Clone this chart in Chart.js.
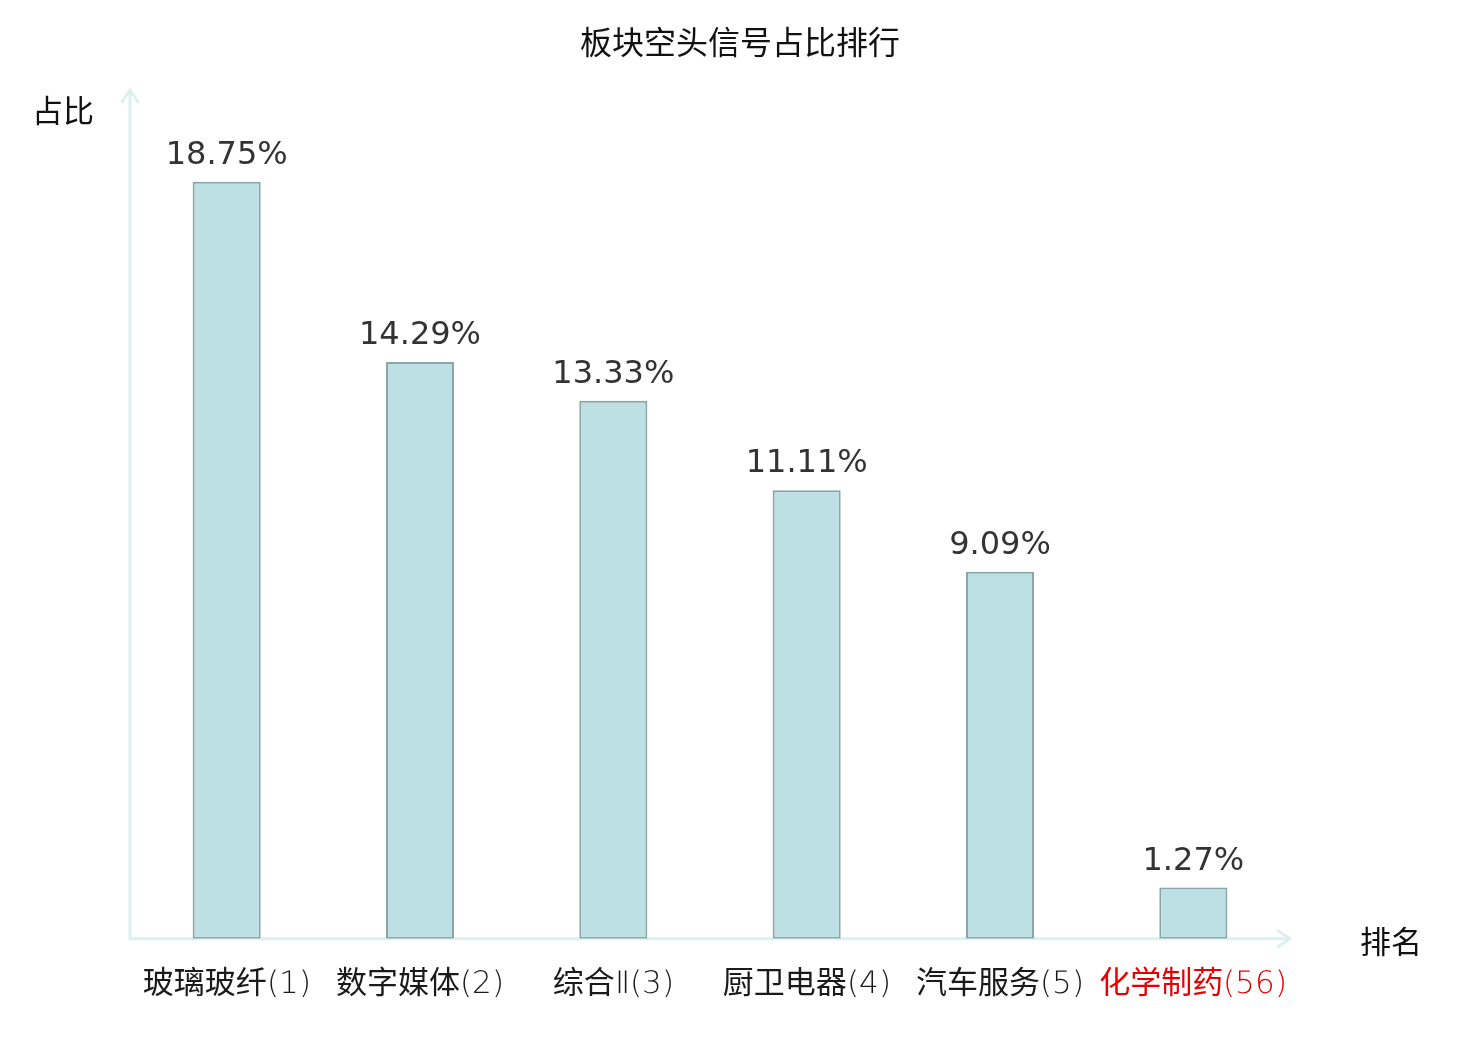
<!DOCTYPE html>
<html><head><meta charset="utf-8">
<script src="https://cdn.jsdelivr.net/npm/chart.js@4.4.1/dist/chart.umd.min.js"></script>
<style>
html,body{margin:0;padding:0;background:#fff}
@font-face{font-family:'LatLight';src:local('DejaVu Sans ExtraLight'),local('DejaVuSans-ExtraLight');unicode-range:U+0000-00FF,U+2160-216F;}
</style>
</head><body>
<canvas id="c" width="1480" height="1040"></canvas>
<script>
const categories = ["玻璃玻纤(1)", "数字媒体(2)", "综合Ⅱ(3)", "厨卫电器(4)", "汽车服务(5)", "化学制药(56)"];
const values = [18.75, 14.29, 13.33, 11.11, 9.09, 1.27];
const valueLabels = ["18.75%", "14.29%", "13.33%", "11.11%", "9.09%", "1.27%"];
const labelColors = ["#1a1a1a", "#1a1a1a", "#1a1a1a", "#1a1a1a", "#1a1a1a", "#e60000"];
const titleText = "板块空头信号占比排行";
const yAxisName = "占比";
const xAxisName = "排名";

const CJK = '"Noto Sans CJK SC", "Noto Sans", sans-serif';
const MIXED = '"LatLight", "Noto Sans CJK SC", sans-serif';
const axisColor = '#dcf1ee';

const axesPlugin = {
  id: 'axesArrows',
  beforeDatasetsDraw(chart) {
    const {ctx, chartArea: a} = chart;
    ctx.save();
    ctx.strokeStyle = axisColor;
    ctx.lineWidth = 3;
    ctx.lineCap = 'round';
    const top = a.top - 1, right = a.right;
    ctx.beginPath();
    ctx.moveTo(a.left, a.bottom); ctx.lineTo(a.left, top);
    ctx.moveTo(a.left - 8, top + 12); ctx.lineTo(a.left, top); ctx.lineTo(a.left + 8, top + 12);
    ctx.moveTo(a.left, a.bottom); ctx.lineTo(right, a.bottom);
    ctx.moveTo(right - 12, a.bottom - 8); ctx.lineTo(right, a.bottom); ctx.lineTo(right - 12, a.bottom + 8);
    ctx.stroke();
    ctx.fillStyle = '#111';
    ctx.textAlign = 'center';
    ctx.textBaseline = 'middle';
    ctx.font = '32px ' + CJK;
    ctx.fillText(titleText, 740, 42);
    ctx.font = '31px ' + CJK;
    ctx.fillText(yAxisName, 63, 110);
    ctx.fillText(xAxisName, 1391, 941);
    ctx.restore();
  },
  afterDatasetsDraw(chart) {
    const {ctx} = chart;
    const meta = chart.getDatasetMeta(0);
    ctx.save();
    ctx.fillStyle = '#333';
    ctx.font = '32px "DejaVu Sans", sans-serif';
    ctx.textAlign = 'center';
    ctx.textBaseline = 'alphabetic';
    meta.data.forEach((el, i) => {
      ctx.fillText(valueLabels[i], el.x, el.y - 18);
    });
    ctx.restore();
  }
};

function draw() {
  new Chart(document.getElementById('c'), {
    type: 'bar',
    data: {
      labels: categories,
      datasets: [{
        data: values,
        backgroundColor: '#bce0e3',
        borderColor: '#89a5a6',
        borderWidth: 2,
        borderSkipped: false,
        barPercentage: 0.352,
        categoryPercentage: 1
      }]
    },
    options: {
      responsive: false,
      devicePixelRatio: 1,
      animation: false,
      layout: {padding: {left: 130, right: 190, top: 91, bottom: 8}},
      plugins: {
        legend: {display: false},
        tooltip: {enabled: false},
        title: {display: false}
      },
      scales: {
        x: {
          grid: {display: false, drawTicks: false},
          border: {display: false},
          ticks: {
            color: labelColors,
            font: {family: MIXED, size: 31, weight: 'normal'},
            padding: 28,
            maxRotation: 0, autoSkip: false
          }
        },
        y: {
          display: false,
          min: 0, max: 21
        }
      }
    },
    plugins: [axesPlugin]
  });
}

let done = false;
function go() { if (!done) { done = true; draw(); } }
Promise.all([
  document.fonts.load('31px "LatLight"', '(1)'),
  document.fonts.load('31px "Noto Sans CJK SC"', '玻璃'),
  document.fonts.load('32px "DejaVu Sans"', '18')
]).then(go, go);
setTimeout(go, 1500);
</script>
</body></html>
